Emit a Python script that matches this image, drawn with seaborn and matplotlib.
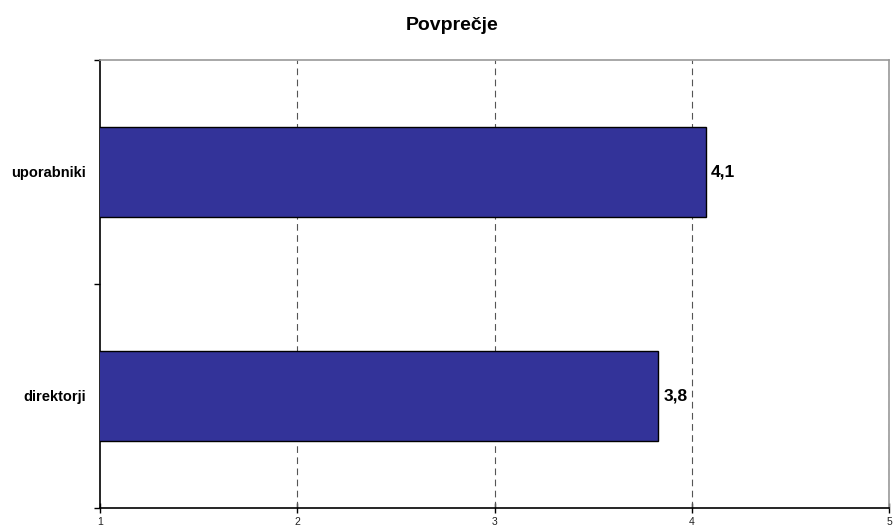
import matplotlib
matplotlib.use("Agg")
import matplotlib.pyplot as plt
import seaborn as sns
import pandas as pd

categories = ["uporabniki", "direktorji"]
values = [4.07, 3.83]
value_labels = ["4,1", "3,8"]
x_ticks = [1, 2, 3, 4, 5]

sns.set_style("white")
plt.rcParams['font.family'] = ['Liberation Sans', 'DejaVu Sans']
plt.rcParams['text.color'] = 'black'
plt.rcParams['xtick.color'] = 'black'
plt.rcParams['ytick.color'] = 'black'

df = pd.DataFrame({"cat": categories, "val": values})

fig = plt.figure(figsize=(8.93, 5.28), dpi=100)
ax = fig.add_axes([100/893, 20/528, 789/893, 448/528])

sns.barplot(data=df, x="val", y="cat", orient="h", color="#333399",
            edgecolor="black", linewidth=1.0, width=0.4, saturation=1,
            ax=ax, zorder=3)

ax.set_xlim(1, 5)
ax.set_ylim(1.5, -0.5)
ax.set_xticks(x_ticks)
ax.set_xticklabels([str(t) for t in x_ticks], fontsize=7.5, color='#222222')
ax.tick_params(axis='x', bottom=True, direction='inout', length=7, width=1,
               color='black', pad=3)

ax.tick_params(axis='y', which='major', left=False, length=0, pad=10, labelsize=10.5)
for lbl in ax.get_yticklabels():
    lbl.set_fontweight('bold')
ax.set_yticks([-0.5, 0.5, 1.5], minor=True)
ax.tick_params(axis='y', which='minor', left=True, length=4, width=1,
               color='black', direction='out')

for x in x_ticks[1:]:
    ax.axvline(x, color='#555555', linestyle=(0, (6, 4)), linewidth=0.8, zorder=1)

ax.set_xlabel("")
ax.set_ylabel("")

for side in ['left', 'bottom']:
    ax.spines[side].set_color('black')
    ax.spines[side].set_linewidth(1.2)
for side in ['top', 'right']:
    ax.spines[side].set_color('#999999')
    ax.spines[side].set_linewidth(1.2)

ax.bar_label(ax.containers[0], labels=value_labels, padding=4,
             fontsize=12.5, fontweight='bold', color='black')

fig.suptitle("Povprečje", x=452/893, y=1 - 26/528, va='center',
             fontsize=14, fontweight='bold', color='black')

fig.savefig("out.png", dpi=100)
